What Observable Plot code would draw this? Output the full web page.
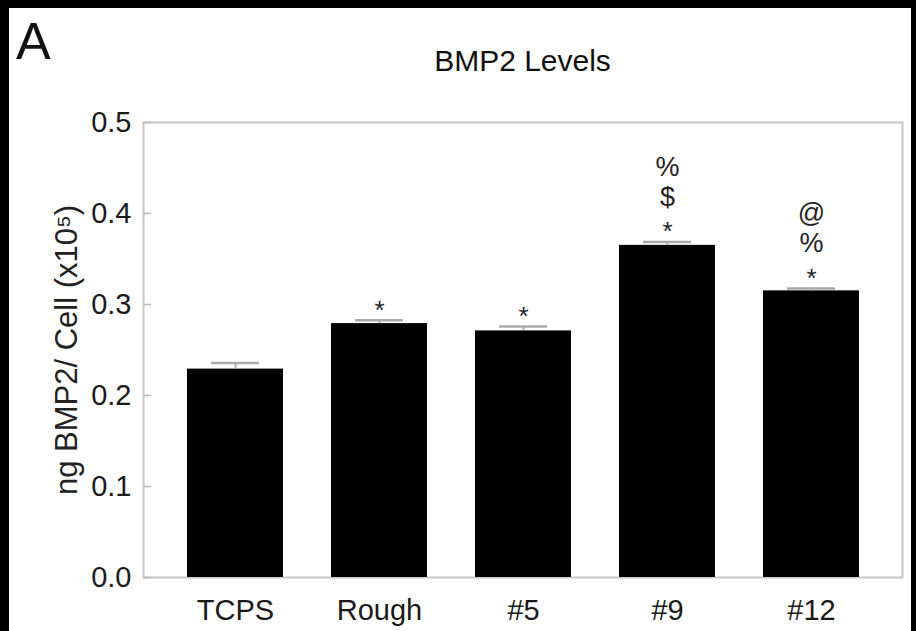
<!DOCTYPE html>
<html><head><meta charset="utf-8">
<script src="https://cdn.jsdelivr.net/npm/d3@7"></script>
<script src="https://cdn.jsdelivr.net/npm/@observablehq/plot@0.6"></script>
<style>
html,body{margin:0;padding:0;background:#000;width:916px;height:631px;overflow:hidden;font-family:"Liberation Sans",Arial,sans-serif;}
#panel{position:absolute;left:9px;top:8px;width:902px;height:623px;background:#fff;}
#head{position:absolute;left:0;top:0;width:916px;height:90px;}
#letter{position:absolute;left:16px;top:15px;font-size:52px;line-height:1;color:#111;}
#title{position:absolute;left:143px;width:759px;text-align:center;top:46px;font-size:30px;line-height:1;color:#111;}
#chart{position:absolute;left:0;top:90px;}
</style></head>
<body>
<div id="panel"></div>
<div id="head"><div id="letter">A</div><div id="title">BMP2 Levels</div></div>
<div id="chart"></div>
<script>
const categories = ["TCPS", "Rough", "#5", "#9", "#12"];
const means = [0.229, 0.279, 0.271, 0.365, 0.315];
const errors = [0.0066, 0.0037, 0.0048, 0.0036, 0.0026];
const significance = [[], ["*"], ["*"], ["*", "$", "%"], ["*", "%", "@"]];
const yTicks = [0, 0.1, 0.2, 0.3, 0.4, 0.5];
const yLabel = "ng BMP2/ Cell (x10\u2075)";

const rows = categories.map((c, i) => ({cat: c, mean: means[i], top: means[i] + errors[i]}));
const annot = rows.flatMap((r, i) => significance[i].map((s, j) => ({cat: r.cat, top: r.top, label: s, line: j})));

const textMarks = [0, 1, 2].map(j => Plot.text(annot.filter(d => d.line === j), {
  x: "cat", y: "top", text: "label",
  dy: j === 0 ? -10 : -15 - 30 * j,
  fontSize: j === 0 ? 26 : 27, fill: "#222"
}));

const chart = Plot.plot({
  width: 916,
  height: 541,
  marginLeft: 143,
  marginRight: 14,
  marginTop: 32,
  marginBottom: 54,
  style: {fontFamily: "'Liberation Sans', Arial, sans-serif", fontSize: "29px", background: "transparent", color: "#1a1a1a"},
  x: {domain: categories, paddingInner: 0.336, paddingOuter: 0.294, align: 0.5},
  y: {domain: [0, 0.5]},
  marks: [
    Plot.frame({stroke: "#c6c6c6", strokeWidth: 2}),
    Plot.axisY(yTicks, {tickSize: 8, dx: 8, fill: "none", stroke: "#b8b8b8", strokeWidth: 1.5, label: null}),
    Plot.axisY(yTicks, {tickSize: 0, tickPadding: 12, tickFormat: d3.format(".1f"), label: null, fontSize: 29}),
    Plot.axisX({tickSize: 0, tickPadding: 22, label: null, fontSize: 29}),
    Plot.barY(rows, {x: "cat", y: "mean", fill: "#000"}),
    Plot.ruleX(rows, {x: "cat", y1: "mean", y2: "top", stroke: "#aaa", strokeWidth: 2}),
    Plot.tickY(rows, {x: "cat", y: "top", stroke: "#aaa", strokeWidth: 2.5, insetLeft: 24, insetRight: 24}),
    ...textMarks,
    Plot.text([yLabel], {text: d => d, frameAnchor: "left", dx: -76, rotate: -90, textAnchor: "middle", lineAnchor: "middle", fontSize: 31, fill: "#222"})
  ]
});
document.getElementById("chart").appendChild(chart);
</script>
</body></html>
